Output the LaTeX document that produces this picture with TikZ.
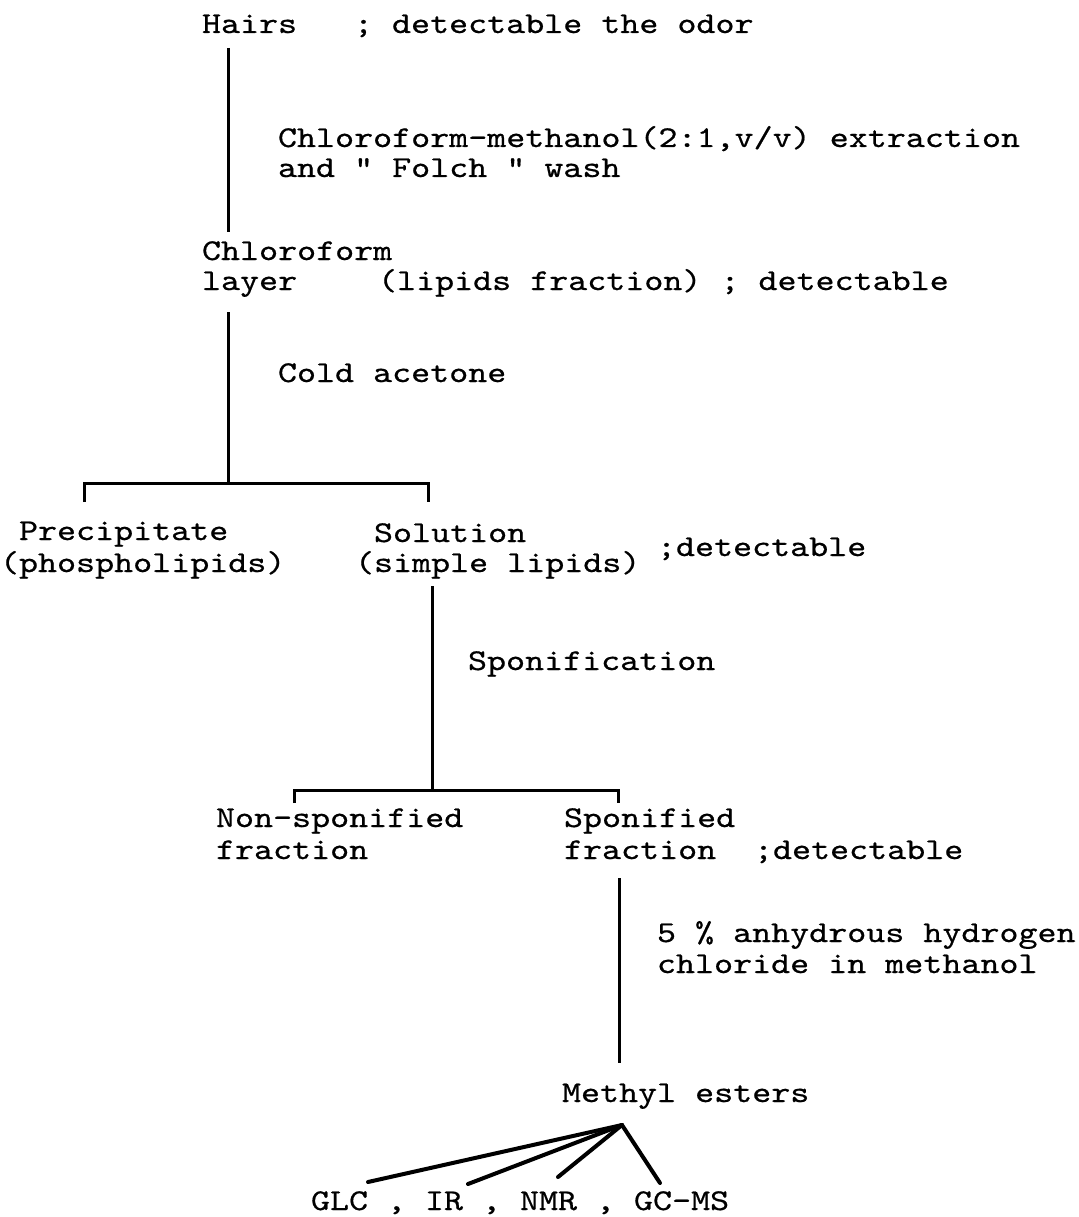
\documentclass[tikz,border=0pt]{standalone}
\usepackage{fontspec}
\newfontfamily\tw{lmmono10-regular.otf}[FakeStretch=1.2,FakeBold=0.6]
\begin{document}
\begin{tikzpicture}[x=1pt,y=-1pt,
  txt/.style={anchor=base west, inner sep=0pt, outer sep=0pt, font=\tw\fontsize{30.2}{36}\selectfont},
  ln/.style={line width=3pt, line cap=butt},
  fan/.style={line width=4pt, line cap=round}]
\useasboundingbox (0,0) rectangle (1078,1217);
% texts
\node[txt] (hairs) at (202,33) {Hairs};
\node[txt] (odor) at (354,33) {; detectable the odor};
\node[txt] (ext1) at (278,147) {Chloroform-methanol(2:1,v/v) extraction};
\node[txt] (ext2) at (278,177) {and " Folch " wash};
\node[txt] (chl1) at (202,260) {Chloroform};
\node[txt] (chl2) at (202,290) {layer};
\node[txt] (lip) at (378,290) {(lipids fraction) ; detectable};
\node[txt] (cold) at (278,382) {Cold acetone};
\node[txt] (prec1) at (19,540) {Precipitate};
\node[txt] (prec2) at (0,572) {(phospholipids)};
\node[txt] (sol1) at (374,542) {Solution};
\node[txt] (sol2) at (355,572) {(simple lipids)};
\node[txt] (det1) at (657,556) {;detectable};
\node[txt] (spon) at (468,670) {Sponification};
\node[txt] (non1) at (216,827) {Non-sponified};
\node[txt] (non2) at (216,859) {fraction};
\node[txt] (sf1) at (564,827) {Sponified};
\node[txt] (sf2) at (564,859) {fraction};
\node[txt] (det2) at (754,859) {;detectable};
\node[txt] (hcl1) at (657,942) {5 \% anhydrous hydrogen};
\node[txt] (hcl2) at (657,973) {chloride in methanol};
\node[txt] (me) at (562,1102) {Methyl esters};
\node[txt] (glc) at (311,1210) {GLC};
\node[txt] (cm1) at (387,1210) {,};
\node[txt] (ir) at (425,1210) {IR};
\node[txt] (cm2) at (482,1210) {,};
\node[txt] (nmr) at (520,1210) {NMR};
\node[txt] (cm3) at (596,1210) {,};
\node[txt] (gcms) at (634,1210) {GC-MS};
% connector end points
\coordinate (a1) at (228,48);
\coordinate (a2) at (228,232);
\coordinate (b1) at (228,312);
\coordinate (b2) at (228,483);
\coordinate (bl) at (84,483);
\coordinate (br) at (428,483);
\coordinate (c1) at (432,586);
\coordinate (c2) at (432,790);
\coordinate (dl) at (294,790);
\coordinate (dr) at (618,790);
\coordinate (e1) at (619,878);
\coordinate (e2) at (619,1063);
\coordinate (apex) at (622,1125);
\coordinate (fglc) at (368,1182);
\coordinate (fir) at (468,1184);
\coordinate (fnmr) at (558,1177);
\coordinate (fgcms) at (660,1183);
% connectors
\draw[ln] (a1) -- (a2);
\draw[ln] (b1) -- (b2);
\draw[ln] ([yshift=-19pt]bl) -- (bl) -- (br) -- ([yshift=-19pt]br);
\draw[ln] (c1) -- (c2);
\draw[ln] ([yshift=-13pt]dl) -- (dl) -- (dr) -- ([yshift=-13pt]dr);
\draw[ln] (e1) -- (e2);
\draw[fan] (apex) -- (fglc);
\draw[fan] (apex) -- (fir);
\draw[fan] (apex) -- (fnmr);
\draw[fan] (apex) -- (fgcms);
\end{tikzpicture}
\end{document}
